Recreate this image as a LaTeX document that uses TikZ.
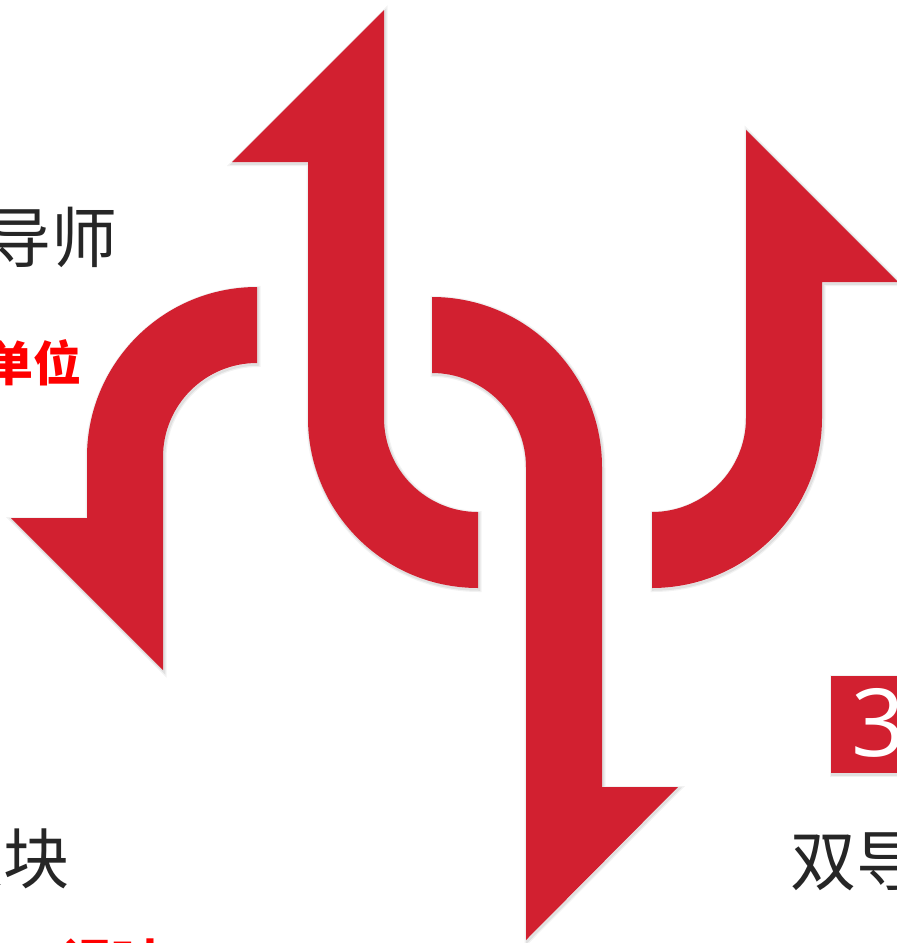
\documentclass[tikz,border=0pt]{standalone}
\usepackage{fontspec}
\newfontfamily\cjk{Noto Sans CJK SC}
\setmainfont{Open Sans}
\definecolor{arrowred}{RGB}{210,32,48}
\definecolor{txtdark}{RGB}{38,38,38}
\definecolor{txtred}{RGB}{255,0,0}
\tikzset{
  halo/.style={preaction={draw=black,draw opacity=0.05,line width=5pt,line join=miter,transform canvas={shift={(1pt,-1.5pt)}}},
               preaction={draw=black,draw opacity=0.07,line width=2.5pt,line join=miter,transform canvas={shift={(1pt,-1.5pt)}}}},
  redshape/.style={fill=arrowred,halo},
  darktxt/.style={inner sep=0pt,text=txtdark,font=\cjk\fontsize{66}{66}\selectfont},
  redtxt/.style={inner sep=0pt,text=txtred,font=\cjk\bfseries\fontsize{48}{48}\selectfont},
}
\begin{document}
\begin{tikzpicture}[x=1pt,y=-1pt]
\useasboundingbox (0,0) rectangle (897,943);
\clip (0,0) rectangle (897,943);
\fill[white] (0,0) rectangle (897,943);
% arrow 1: down-left
\path[redshape] (257,287) arc[start angle=270,end angle=180,radius=170]
  -- (87,518) -- (11,518) -- (163,670) -- (163,457)
  arc[start angle=180,end angle=270,radius=94] -- cycle;
% arrow 2: tall up
\path[redshape] (478,588) arc[start angle=90,end angle=180,radius=170]
  -- (308,162) -- (232,162) -- (384,10) -- (384,418)
  arc[start angle=180,end angle=90,radius=94] -- cycle;
% arrow 3: long down
\path[redshape] (432,297) arc[start angle=270,end angle=360,radius=170]
  -- (602,787) -- (678,787) -- (526,940) -- (526,467)
  arc[start angle=0,end angle=-90,radius=94] -- cycle;
% arrow 4: up right
\path[redshape] (652,588) arc[start angle=90,end angle=0,radius=170]
  -- (822,282) -- (898,282) -- (746,130) -- (746,418)
  arc[start angle=0,end angle=90,radius=94] -- cycle;
% number box
\path[redshape] (831,676) rectangle (905,773);
\node[inner sep=0pt,anchor=west,text=white,font=\fontsize{94}{94}\selectfont] (num) at (851,723) {3};
% texts
\node[darktxt,anchor=east] (t1) at (118,237) {导师};
\node[redtxt,anchor=east] (t2) at (82,363) {单位};
\node[darktxt,anchor=east] (t3) at (70,858) {模块};
\node[redtxt,anchor=west] (t4) at (63,961) {课时};
\node[darktxt,anchor=west] (t5) at (790,861) {双导师};
\end{tikzpicture}
\end{document}
